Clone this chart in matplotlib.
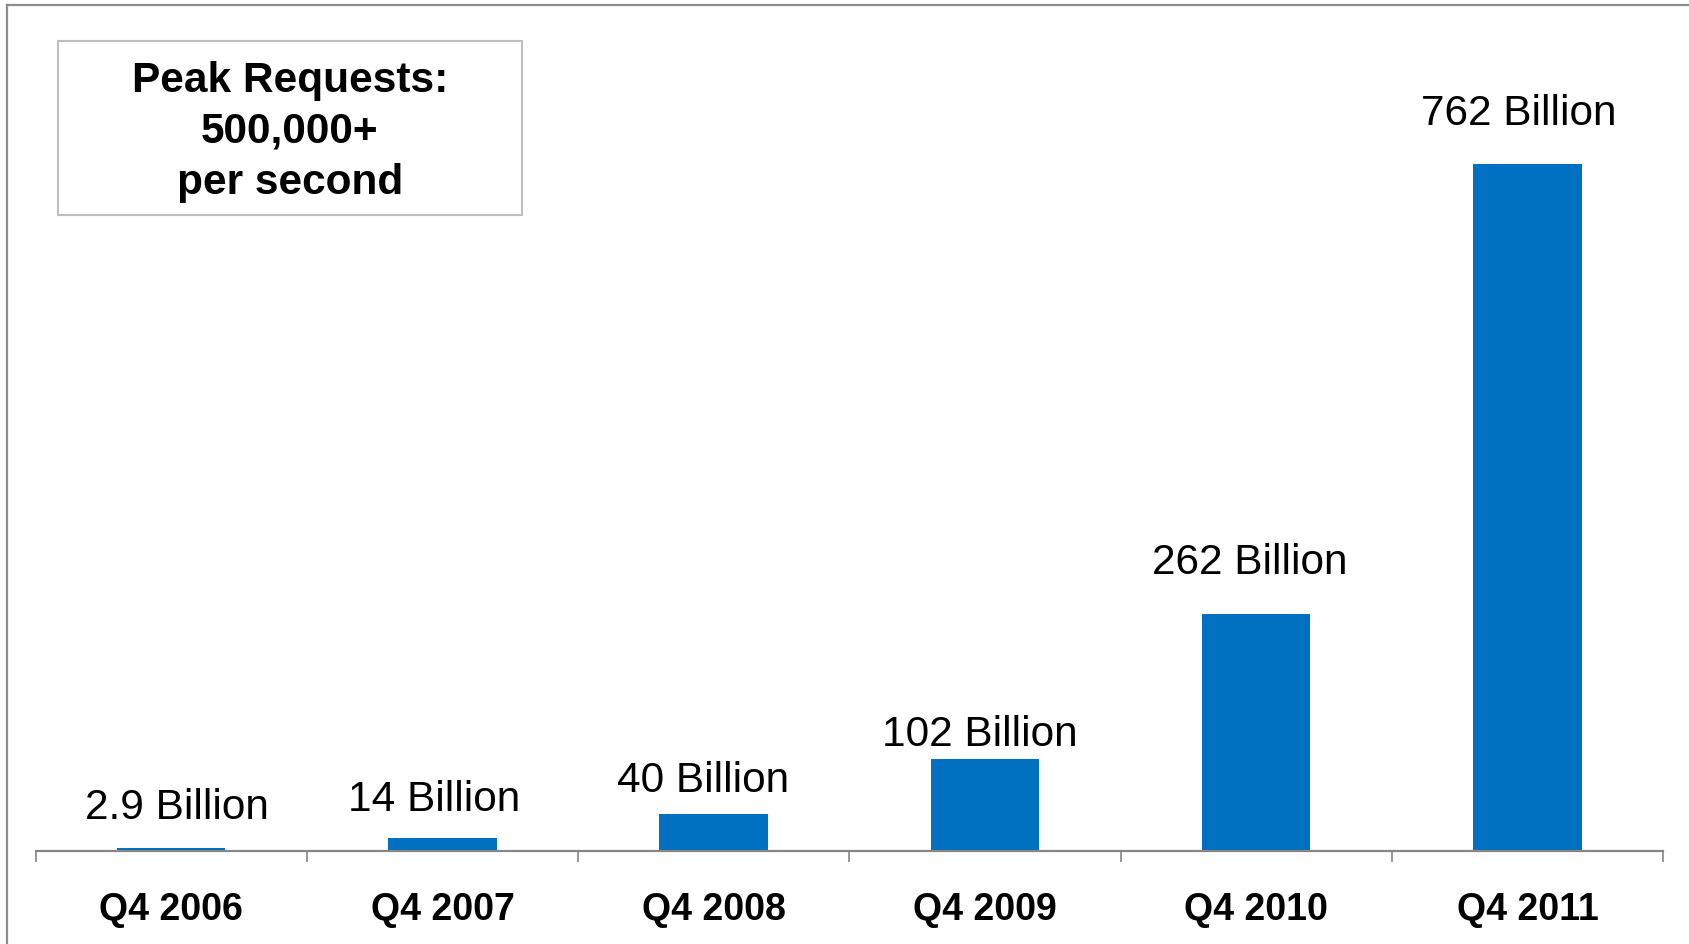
import matplotlib.pyplot as plt
from matplotlib.lines import Line2D
from matplotlib.patches import Rectangle

quarters = ['Q4 2006', 'Q4 2007', 'Q4 2008', 'Q4 2009', 'Q4 2010', 'Q4 2011']
objects = [2.9, 14, 40, 102, 262, 762]
labels = ['2.9 Billion', '14 Billion', '40 Billion', '102 Billion', '262 Billion', '762 Billion']
box_lines = ['Peak Requests:', '500,000+', 'per second']

# label nudges in pixels (dx, dy above bar top), as placed in the original
nudges = [(6, 41), (-8, 39), (-11, 34), (-5, 25), (-6, 52), (-9, 51)]

W, H = 1690, 945
fig = plt.figure(figsize=(W / 100, H / 100), dpi=100)
ax = fig.add_axes([35.6 / W, 1 - 851.5 / H, (1663 - 35.6) / W, 845.5 / H])

blue = '#0070C0'
grey = '#868686'
x = list(range(len(quarters)))
ax.bar(x, objects, width=0.40, color=blue, zorder=2)
ax.set_xlim(-0.5, len(quarters) - 0.5)
ax.set_ylim(0, 938.5)

for s in ['top', 'right', 'left']:
    ax.spines[s].set_visible(False)
ax.spines['bottom'].set_color(grey)
ax.spines['bottom'].set_linewidth(1.6)
ax.set_yticks([])
ax.set_xticks([i - 0.5 for i in range(len(quarters) + 1)])
ax.set_xticklabels([])
ax.tick_params(axis='x', length=8, width=1.2, color=grey, direction='out')

arial = ['Liberation Sans', 'DejaVu Sans']

for i, q in enumerate(quarters):
    ax.annotate(q, xy=(i, 0), xycoords=('data', 'axes fraction'),
                xytext=(0, -58), textcoords='offset pixels',
                ha='center', va='center', fontsize=27, fontweight='bold',
                family=arial)

for i, (v, lab) in enumerate(zip(objects, labels)):
    dx, dy = nudges[i]
    ax.annotate(lab, xy=(i, v), xytext=(dx, dy), textcoords='offset pixels',
                ha='center', va='center', fontsize=30.5, family=arial)

# annotation box
fig.add_artist(Rectangle((58 / W, 1 - 216 / H), (522 - 58) / W, (216 - 42) / H,
                         transform=fig.transFigure, fill=False,
                         edgecolor='#bfbfbf', linewidth=1.5))
for k, t in enumerate(box_lines):
    fig.text(290 / W, 1 - (81 + 51 * k) / H, t, ha='center', va='center',
             fontsize=30.5, fontweight='bold', family=arial)

# outer frame (top and left edges only visible)
fig.add_artist(Line2D([7 / W, 1], [1 - 6 / H, 1 - 6 / H], transform=fig.transFigure,
                      color='#8c8c8c', linewidth=1.6))
fig.add_artist(Line2D([7 / W, 7 / W], [0, 1 - 6 / H], transform=fig.transFigure,
                      color='#8c8c8c', linewidth=1.6))

fig.savefig('out.png', dpi=100)
